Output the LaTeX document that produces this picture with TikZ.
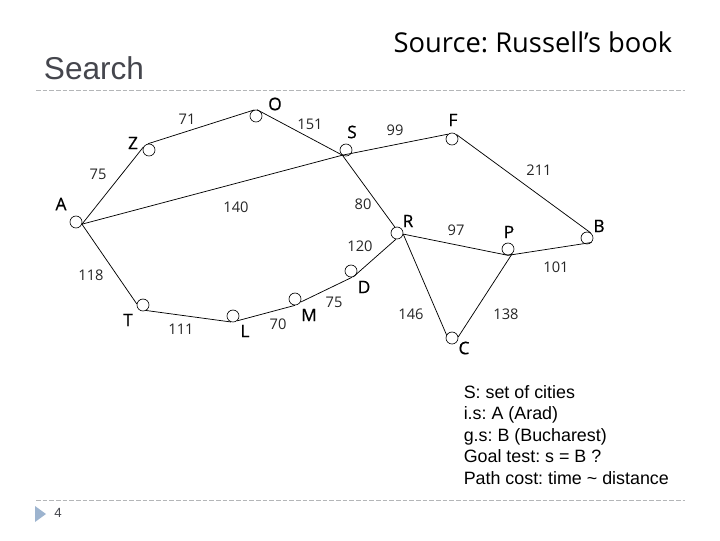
\documentclass[tikz,border=0pt]{standalone}
\usepackage{fontspec}
\setmainfont{Liberation Sans}
\newfontfamily\mapfont{Open Sans}
\newfontfamily\letterfont[FakeBold=0.5]{Open Sans}
\definecolor{titlegray}{HTML}{45464D}
\definecolor{rulegray}{HTML}{B4B6B8}
\definecolor{markblue}{HTML}{9DB4CF}
\tikzset{
    city/.style={draw, circle, inner sep=0pt, minimum size=12pt*0.75, line width=0.5pt},
    road/.style={line width=0.55pt},
    citylabel/.style={font=\letterfont\fontsize{13}{15}\selectfont},
    dist/.style={font=\mapfont\fontsize{11}{13}\selectfont, text=black!85},
    rulebar/.style={dashed, rulegray, line width=0.6pt, dash pattern=on 3.5pt off 1.5pt}
}
\begin{document}
\frenchspacing
\begin{tikzpicture}[x=0.75pt, y=-0.75pt]
    \useasboundingbox (0,0) rectangle (720,540);

    % Slide furniture
    \node[font=\fontsize{23.7}{26}\selectfont, text=titlegray] (title) at (94,68) {Search};
    \node[font=\mapfont\fontsize{20.5}{24}\selectfont] (source) at (533,42) {Source: Russell’s book};
    \coordinate (ruleTopL) at (36,90);
    \coordinate (ruleTopR) at (685,90);
    \coordinate (ruleBotL) at (36,500);
    \coordinate (ruleBotR) at (685,500);
    \draw[rulebar] (ruleTopL) -- (ruleTopR);
    \draw[rulebar] (ruleBotL) -- (ruleBotR);
    \fill[markblue] (35,506) -- (46,514) -- (35,522) -- cycle;
    \node[font=\fontsize{10}{12}\selectfont, text=titlegray] (pagenum) at (58,513) {4};

    % Cities
    \node[city] (A) at (76,222) {};
    \node[city] (Z) at (149,150) {};
    \node[city] (O) at (256,116) {};
    \node[city] (S) at (346,150) {};
    \node[city] (F) at (452,139) {};
    \node[city] (B) at (587,238) {};
    \node[city] (P) at (508,249) {};
    \node[city] (R) at (397,233) {};
    \node[city] (D) at (351,271) {};
    \node[city] (M) at (295,299) {};
    \node[city] (L) at (233,316) {};
    \node[city] (T) at (143,305) {};
    \node[city] (C) at (452,338) {};

    % Roads
    \draw[road] (A.-20) -- (Z.150);
    \draw[road] (Z.100) -- (O.105);
    \draw[road] (O.80) -- (S.235);
    \draw[road] (A.-20) -- (S.235);
    \draw[road] (S.235) -- (F.130);
    \draw[road] (F.45) -- (B.55);
    \draw[road] (S.235) -- (R.110);
    \draw[road] (R.-10) -- (P.-90);
    \draw[road] (P.-90) -- (B.-45);
    \draw[road] (R.-10) -- (C.150);
    \draw[road] (P.-50) -- (C.10);
    \draw[road] (R.-100) -- (D.-70);
    \draw[road] (D.-80) -- (M.-30);
    \draw[road] (M.-90) -- (L.-50);
    \draw[road] (L.-110) -- (T.-60);
    \draw[road] (T.170) -- (A.-20);

    % City letters
    \node[citylabel] (lblO) at (275,104) {O};
    \node[citylabel] (lblZ) at (133,143) {Z};
    \node[citylabel] (lblS) at (352,132) {S};
    \node[citylabel] (lblF) at (453,120) {F};
    \node[citylabel] (lblA) at (61,204) {A};
    \node[citylabel] (lblR) at (408,221) {R};
    \node[citylabel] (lblP) at (509,232) {P};
    \node[citylabel] (lblB) at (599,226) {B};
    \node[citylabel] (lblD) at (364,287) {D};
    \node[citylabel] (lblT) at (128,320) {T};
    \node[citylabel] (lblL) at (245,331) {L};
    \node[citylabel] (lblM) at (309,315) {M};
    \node[citylabel] (lblC) at (464,348) {C};

    % Distances
    \node[dist] (dZO) at (187,119) {71};
    \node[dist] (dOS) at (310,124) {151};
    \node[dist] (dSF) at (395,130) {99};
    \node[dist] (dFB) at (539,170) {211};
    \node[dist] (dAZ) at (98,174) {75};
    \node[dist] (dAS) at (236,207) {140};
    \node[dist] (dSR) at (363,204) {80};
    \node[dist] (dRD) at (360,246) {120};
    \node[dist] (dRP) at (456,230) {97};
    \node[dist] (dPB) at (556,267) {101};
    \node[dist] (dAT) at (91,275) {118};
    \node[dist] (dTL) at (181,329) {111};
    \node[dist] (dLM) at (278,324) {70};
    \node[dist] (dMD) at (334,302) {75};
    \node[dist] (dRC) at (411,314) {146};
    \node[dist] (dPC) at (506,314) {138};

    % Problem definition
    \node[anchor=north west, inner sep=0pt, align=left, font=\fontsize{13.4}{16.1}\selectfont] (notes) at (463.5,385) {S: set of cities\\i.s: A (Arad)\\g.s: B (Bucharest)\\Goal test: s = B ?\\Path cost: time \textasciitilde{} distance};
\end{tikzpicture}
\end{document}
